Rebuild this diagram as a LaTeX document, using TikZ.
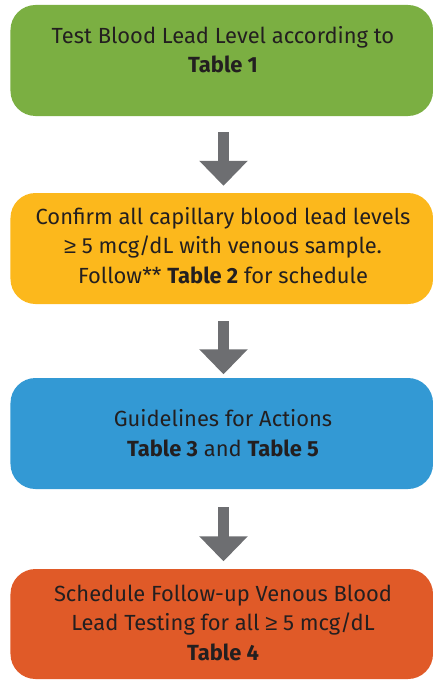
\documentclass[tikz,border=0pt]{standalone}
\usepackage{fontspec}
\setmainfont{Fira Sans}
\newfontfamily\symf{Liberation Sans}
\usetikzlibrary{arrows.meta}
\definecolor{cgreen}{HTML}{7BAF42}
\definecolor{cyellow}{HTML}{FCB81C}
\definecolor{cblue}{HTML}{3399D4}
\definecolor{corange}{HTML}{E05A28}
\definecolor{cgray}{HTML}{6D6E71}
\definecolor{ctext}{HTML}{231F20}
\newcommand{\mygeq}{{\symf ≥}}
\tikzset{
  box/.style={rectangle, rounded corners=25bp, minimum width=422.5bp, inner sep=0pt, draw=none},
  txt/.style={align=center, text=ctext, inner sep=0pt, font=\fontsize{22}{29.5}\selectfont},
  arr/.style={draw=cgray, line width=11bp, -{Triangle[width=47bp,length=25bp]}},
}
\begin{document}
\begin{tikzpicture}[x=1bp,y=-1bp]
\useasboundingbox (0,0) rectangle (432,680);
\node[box, fill=cgreen, minimum height=111bp] (b1) at (221.75,60.5) {};
\node[box, fill=cyellow, minimum height=111bp] (b2) at (221.75,248.5) {};
\node[box, fill=cblue, minimum height=111bp] (b3) at (221.75,433.5) {};
\node[box, fill=corange, minimum height=110bp] (b4) at (221.75,624) {};
\node[txt, anchor=base] (t1) at (223,73) {Test Blood Lead Level according to\\\textbf{Table 1}};
\node[txt, anchor=base] (t2) at (223,283) {Confirm all capillary blood lead levels\\\mygeq\ 5 mcg/dL with venous sample.\\Follow** \textbf{Table 2} for schedule};
\node[txt, anchor=base] (t3) at (223,456) {Guidelines for Actions\\\textbf{Table 3} and \textbf{Table 5}};
\node[txt, anchor=base] (t4) at (223,660) {Schedule Follow-up Venous Blood\\Lead Testing for all \mygeq\ 5 mcg/dL\\\textbf{Table 4}};
\draw[arr, shorten <=16bp, shorten >=7bp] ([xshift=1.75bp]b1.south) -- ([xshift=1.75bp]b2.north);
\draw[arr, shorten <=17bp, shorten >=3.5bp] ([xshift=1.75bp]b2.south) -- ([xshift=1.75bp]b3.north);
\draw[arr, shorten <=18bp, shorten >=7.5bp] ([xshift=1.75bp]b3.south) -- ([xshift=1.75bp]b4.north);
\end{tikzpicture}
\end{document}
